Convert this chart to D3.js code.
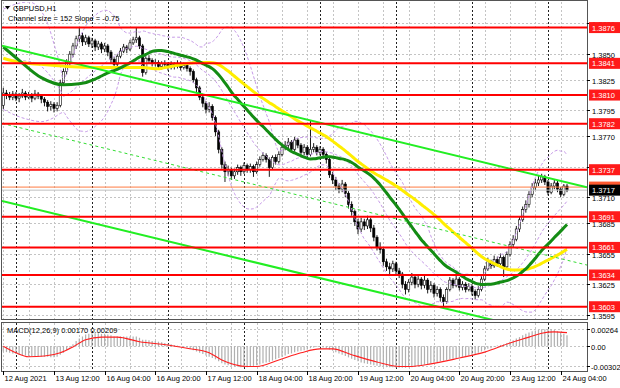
<!DOCTYPE html>
<html lang="en">
<head>
<meta charset="UTF-8">
<script src="https://d3js.org/d3.v7.min.js"></script>
<title>GBPUSD,H1</title>
<style>
  body { margin: 0; background: #fff; }
  svg text { font-family: "Liberation Sans", Arial, sans-serif; font-size: 7.5px; }
</style>
</head>
<body>
<script>
// ---- data ----
var symbol = "GBPUSD,H1";
var channelText = "Channel size = 152 Slope = -0.75";
var macdText = "MACD(12,26,9) 0.00170 0.00209";

var firstOpen = 1.3800;
var closes = [
  1.3812,1.3810,1.3808,1.3811,1.3807,1.3809,1.3812,1.3808,1.3810,1.3807,
  1.3811,1.3809,1.3806,1.3803,1.3799,1.3801,1.3797,1.3800,1.3822,1.3833,
  1.3842,1.3850,1.3858,1.3865,1.3868,1.3862,1.3866,1.3860,1.3863,1.3857,
  1.3860,1.3855,1.3858,1.3852,1.3845,1.3840,1.3848,1.3853,1.3857,1.3855,
  1.3861,1.3864,1.3866,1.3858,1.3832,1.3846,1.3844,1.3841,1.3842,1.3838,
  1.3841,1.3840,1.3837,1.3840,1.3838,1.3841,1.3837,1.3839,1.3836,1.3833,
  1.3825,1.3817,1.3808,1.3802,1.3796,1.3799,1.3788,1.3774,1.3757,1.3742,
  1.3735,1.3737,1.3731,1.3735,1.3739,1.3735,1.3741,1.3737,1.3740,1.3735,
  1.3742,1.3747,1.3751,1.3747,1.3739,1.3749,1.3745,1.3752,1.3759,1.3761,
  1.3764,1.3757,1.3766,1.3761,1.3754,1.3759,1.3752,1.3757,1.3759,1.3754,
  1.3757,1.3752,1.3747,1.3732,1.3727,1.3721,1.3718,1.3723,1.3714,1.3703,
  1.3696,1.3686,1.3679,1.3686,1.3682,1.3688,1.3680,1.3671,1.3661,1.3659,
  1.3647,1.3642,1.3640,1.3645,1.3638,1.3635,1.3625,1.3620,1.3627,1.3632,
  1.3625,1.3630,1.3624,1.3629,1.3620,1.3624,1.3616,1.3620,1.3612,1.3608,
  1.3620,1.3629,1.3624,1.3630,1.3622,1.3625,1.3620,1.3623,1.3618,1.3614,
  1.3620,1.3630,1.3640,1.3647,1.3643,1.3649,1.3645,1.3651,1.3642,1.3654,
  1.3664,1.3669,1.3679,1.3688,1.3698,1.3703,1.3713,1.3720,1.3724,1.3727,
  1.3730,1.3725,1.3715,1.3721,1.3724,1.3718,1.3713,1.3721,1.3717
];
var highs = [
  1.3817,1.3815,1.3813,1.3814,1.3813,1.3812,1.3816,1.3814,1.3813,1.3812,
  1.3815,1.3813,1.3811,1.3808,1.3805,1.3804,1.3803,1.3803,1.3825,1.3836,
  1.3845,1.3853,1.3861,1.3868,1.3876,1.3871,1.3869,1.3868,1.3866,1.3865,
  1.3863,1.3862,1.3861,1.3860,1.3854,1.3847,1.3850,1.3856,1.3860,1.3859,
  1.3864,1.3867,1.3876,1.3868,1.3860,1.3848,1.3849,1.3846,1.3845,1.3844,
  1.3843,1.3844,1.3842,1.3843,1.3842,1.3844,1.3843,1.3842,1.3841,1.3838,
  1.3835,1.3827,1.3819,1.3811,1.3804,1.3803,1.3801,1.3790,1.3776,1.3759,
  1.3745,1.3741,1.3739,1.3738,1.3742,1.3741,1.3744,1.3743,1.3743,1.3742,
  1.3745,1.3750,1.3754,1.3753,1.3749,1.3751,1.3752,1.3755,1.3762,1.3765,
  1.3768,1.3766,1.3769,1.3768,1.3763,1.3762,1.3761,1.3785,1.3763,1.3761,
  1.3760,1.3759,1.3754,1.3749,1.3735,1.3730,1.3724,1.3727,1.3725,1.3716,
  1.3706,1.3698,1.3689,1.3690,1.3689,1.3692,1.3690,1.3683,1.3673,1.3666,
  1.3661,1.3650,1.3646,1.3648,1.3647,1.3641,1.3637,1.3628,1.3630,1.3636,
  1.3634,1.3633,1.3632,1.3635,1.3631,1.3628,1.3626,1.3623,1.3622,1.3615,
  1.3622,1.3632,1.3631,1.3634,1.3632,1.3628,1.3627,1.3626,1.3625,1.3620,
  1.3623,1.3633,1.3643,1.3651,1.3649,1.3653,1.3652,1.3655,1.3653,1.3657,
  1.3667,1.3673,1.3682,1.3691,1.3701,1.3707,1.3716,1.3724,1.3728,1.3731,
  1.3733,1.3732,1.3727,1.3724,1.3727,1.3726,1.3720,1.3723,1.3723
];
var lows = [
  1.3796,1.3806,1.3805,1.3805,1.3804,1.3803,1.3807,1.3805,1.3806,1.3803,
  1.3805,1.3806,1.3802,1.3799,1.3794,1.3795,1.3793,1.3794,1.3798,1.3819,
  1.3830,1.3839,1.3847,1.3855,1.3862,1.3858,1.3859,1.3857,1.3856,1.3853,
  1.3854,1.3851,1.3852,1.3848,1.3841,1.3835,1.3838,1.3846,1.3851,1.3851,
  1.3853,1.3859,1.3861,1.3855,1.3828,1.3830,1.3841,1.3838,1.3838,1.3835,
  1.3835,1.3837,1.3834,1.3835,1.3835,1.3836,1.3834,1.3835,1.3833,1.3829,
  1.3822,1.3813,1.3805,1.3798,1.3792,1.3793,1.3785,1.3770,1.3753,1.3738,
  1.3725,1.3731,1.3727,1.3728,1.3732,1.3731,1.3733,1.3734,1.3734,1.3730,
  1.3733,1.3740,1.3745,1.3744,1.3730,1.3737,1.3742,1.3743,1.3750,1.3756,
  1.3758,1.3754,1.3755,1.3758,1.3750,1.3751,1.3749,1.3750,1.3754,1.3751,
  1.3751,1.3748,1.3743,1.3729,1.3723,1.3717,1.3714,1.3715,1.3710,1.3699,
  1.3692,1.3682,1.3674,1.3676,1.3678,1.3679,1.3676,1.3667,1.3658,1.3655,
  1.3643,1.3638,1.3635,1.3637,1.3634,1.3631,1.3621,1.3615,1.3617,1.3624,
  1.3621,1.3622,1.3620,1.3621,1.3616,1.3617,1.3612,1.3613,1.3608,1.3603,
  1.3606,1.3618,1.3621,1.3622,1.3619,1.3619,1.3617,1.3618,1.3614,1.3610,
  1.3612,1.3618,1.3628,1.3638,1.3640,1.3641,1.3642,1.3643,1.3632,1.3640,
  1.3652,1.3661,1.3667,1.3676,1.3686,1.3695,1.3700,1.3710,1.3717,1.3721,
  1.3724,1.3722,1.3712,1.3713,1.3718,1.3715,1.3710,1.3711,1.3715
];

var greenPeriod = 30, yellowPeriod = 50, bbPeriod = 20, bbDev = 2;
var greenStart = [[0,1.3857],[5,1.3844],[12,1.3827],[19,1.3820],[24,1.3821]];
var yellowStart = [[0,1.3846],[5,1.3842],[12,1.3840],[20,1.3838],[30,1.3837],[39,1.3837],[44,1.3837]];
var bbStartUpper = [[0,1.3894],[4,1.3899],[8,1.3901],[10,1.3899],[12,1.3892],[14,1.3880],[16,1.3860],[18,1.3838]];
var bbStartMiddle = [[0,1.3845],[4,1.3844],[8,1.3843],[12,1.3838],[16,1.3824],[18,1.3815]];
var bbStartLower = [[0,1.3796],[4,1.3790],[8,1.3786],[12,1.3784],[16,1.3788],[18,1.3792]];

// regression channel
var channelStart = 1.3858;     // upper line at first bar
var channelSlope = -0.000075;  // per bar
var channelSize = 0.0152;

// horizontal levels
var redLevels = [1.3876, 1.3841, 1.3810, 1.3782, 1.3737, 1.3691, 1.3661, 1.3634, 1.3603];
var orangeLevel = 1.3720;
var bid = 1.3717;
var priceTicks = [1.3880, 1.3850, 1.3825, 1.3795, 1.3770, 1.3740, 1.3710, 1.3685, 1.3655, 1.3625, 1.3595];

// MACD histogram (x 0.001) per bar and signal line [bar, value x 0.001]
var macdMain = [
  -0.8,-0.9,-1.0,-1.1,-1.2,-1.3,-1.4,-1.4,-1.5,-1.5,
  -1.6,-1.6,-1.6,-1.6,-1.6,-1.7,-1.7,-1.6,-1.3,-1.0,
  -0.6,-0.2,0.3,0.8,1.2,1.5,1.8,1.9,2.0,2.0,
  2.0,1.9,1.9,1.8,1.7,1.5,1.5,1.5,1.5,1.5,
  1.5,1.5,1.5,1.3,1.0,1.0,0.9,0.8,0.8,0.7,
  0.6,0.5,0.4,0.3,0.2,0.1,0.0,-0.1,-0.2,-0.4,
  -0.6,-0.8,-1.0,-1.2,-1.4,-1.6,-1.8,-2.0,-2.3,-2.6,
  -2.8,-2.9,-3.0,-3.1,-3.1,-3.2,-3.2,-3.2,-3.1,-3.0,
  -2.9,-2.8,-2.6,-2.5,-2.4,-2.2,-2.0,-1.8,-1.6,-1.4,
  -1.2,-1.1,-0.9,-0.8,-0.7,-0.6,-0.5,-0.3,-0.2,-0.1,
  -0.1,-0.2,-0.3,-0.5,-0.7,-0.9,-1.1,-1.3,-1.5,-1.7,
  -1.9,-2.1,-2.3,-2.5,-2.6,-2.7,-2.8,-2.9,-3.0,-3.1,
  -3.1,-3.2,-3.2,-3.2,-3.3,-3.3,-3.3,-3.3,-3.2,-3.2,
  -3.1,-3.0,-2.9,-2.8,-2.7,-2.6,-2.5,-2.4,-2.3,-2.2,
  -2.1,-2.0,-1.9,-1.8,-1.7,-1.6,-1.5,-1.4,-1.3,-1.2,
  -1.0,-0.8,-0.6,-0.4,-0.3,-0.1,0.1,0.2,0.3,0.5,
  0.7,0.9,1.2,1.4,1.7,1.9,2.1,2.3,2.4,2.5,
  2.6,2.6,2.64,2.6,2.5,2.3,2.1,1.9,1.7
];
var macdSignal = [
  [0,0.0],[4,-1.0],[8,-1.6],[13,-1.5],[18,-1.0],[22,-0.1],[26,1.0],[31,1.4],[36,1.4],
  [43,0.7],[52,0.2],[58,-0.3],[65,-1.0],[69,-2.1],[77,-3.1],[80,-3.1],[87,-2.1],
  [94,-1.0],[100,-0.4],[104,-0.4],[110,-1.3],[118,-2.4],[125,-3.1],[128,-3.1],
  [135,-2.7],[144,-1.8],[152,-0.9],[160,0.5],[166,1.4],[170,2.0],[174,2.2],[178,2.09]
];
var macdLabels = [0.00264, 0, -0.00302];

// time axis: bar index of each label, day separators
var timeLabels = [
  [0, "12 Aug 2021"], [16, "13 Aug 12:00"], [32, "16 Aug 04:00"], [48, "16 Aug 20:00"],
  [64, "17 Aug 12:00"], [80, "18 Aug 04:00"], [96, "18 Aug 20:00"], [112, "19 Aug 12:00"],
  [128, "20 Aug 04:00"], [144, "20 Aug 20:00"], [160, "23 Aug 12:00"], [176, "24 Aug 04:00"]
];
var daySeparators = [4, 28, 52, 76, 100, 124, 148, 172];

// ---- indicators from the closes ----
function windowAt(n, i) { return closes.slice(i - n + 1, i + 1); }
function smaLine(start, n) {
  return start.concat(d3.range(n - 1, closes.length).map(function (i) {
    return [i, d3.mean(windowAt(n, i))];
  }));
}
var maGreen = smaLine(greenStart, greenPeriod);
var maYellow = smaLine(yellowStart, yellowPeriod);

var bbUpper = bbStartUpper.slice(), bbMiddle = bbStartMiddle.slice(), bbLower = bbStartLower.slice();
d3.range(bbPeriod - 1, closes.length).forEach(function (i) {
  var w = windowAt(bbPeriod, i), m = d3.mean(w);
  var sd = Math.sqrt(d3.mean(w, function (v) { return (v - m) * (v - m); }));
  bbUpper.push([i, m + bbDev * sd]);
  bbMiddle.push([i, m]);
  bbLower.push([i, m - bbDev * sd]);
});

// ---- layout ----
var width = 620, height = 388;
var plotLeft = 2, plotRight = 587, plotTop = 2, mainBottom = 319;
var macdTop = 323, macdBottom = 371;

var svg = d3.select("body").append("svg")
  .attr("width", width).attr("height", height);

var x = d3.scaleLinear().domain([0, closes.length - 1]).range([3.3, 567]);
var y = d3.scaleLinear().domain([1.3591, 1.3901]).range([mainBottom, plotTop]);
var ym = d3.scaleLinear().domain([-0.00302, 0.00264]).range([366, 329]);

svg.append("clipPath").attr("id", "clipMain").append("rect")
  .attr("x", plotLeft).attr("y", plotTop).attr("width", plotRight - plotLeft).attr("height", mainBottom - plotTop);
svg.append("clipPath").attr("id", "clipMacd").append("rect")
  .attr("x", plotLeft).attr("y", macdTop).attr("width", plotRight - plotLeft).attr("height", macdBottom - macdTop);

var main = svg.append("g").attr("clip-path", "url(#clipMain)");
var sub = svg.append("g").attr("clip-path", "url(#clipMacd)");

// grid
var gridBars = d3.range(0, closes.length, 8);
[main, sub].forEach(function (g, k) {
  var y0 = k ? macdTop : plotTop, y1 = k ? macdBottom : mainBottom;
  g.selectAll(".vgrid").data(gridBars).enter().append("line")
    .attr("x1", function (d) { return Math.round(x(d)) + 0.5; })
    .attr("x2", function (d) { return Math.round(x(d)) + 0.5; })
    .attr("y1", y0).attr("y2", y1)
    .attr("stroke", "#c4c4c4").attr("stroke-dasharray", "2,2");
  g.selectAll(".sep").data(daySeparators).enter().append("line")
    .attr("x1", function (d) { return Math.round(x(d)) + 0.5; })
    .attr("x2", function (d) { return Math.round(x(d)) + 0.5; })
    .attr("y1", y0).attr("y2", y1)
    .attr("stroke", "#222").attr("stroke-dasharray", "2,2");
});
main.selectAll(".hgrid").data(priceTicks).enter().append("line")
  .attr("x1", plotLeft).attr("x2", plotRight)
  .attr("y1", function (d) { return Math.round(y(d)) + 0.5; })
  .attr("y2", function (d) { return Math.round(y(d)) + 0.5; })
  .attr("stroke", "#c4c4c4").attr("stroke-dasharray", "2,2");
sub.selectAll(".mgrid").data(macdLabels).enter().append("line")
  .attr("x1", plotLeft).attr("x2", plotRight)
  .attr("y1", function (d) { return Math.round(ym(d)) + 0.5; })
  .attr("y2", function (d) { return Math.round(ym(d)) + 0.5; })
  .attr("stroke", "#c4c4c4").attr("stroke-dasharray", "2,2");

// candles
var opens = closes.map(function (c, i) { return i ? closes[i - 1] : firstOpen; });
var candle = main.selectAll(".candle").data(closes).enter().append("g");
candle.append("line")
  .attr("x1", function (d, i) { return x(i); })
  .attr("x2", function (d, i) { return x(i); })
  .attr("y1", function (d, i) { return y(highs[i]); })
  .attr("y2", function (d, i) { return y(lows[i]); })
  .attr("stroke", "#000").attr("stroke-width", 0.9);
candle.append("rect")
  .attr("x", function (d, i) { return x(i) - 1.1; })
  .attr("width", 2.2)
  .attr("y", function (d, i) { return y(Math.max(d, opens[i])); })
  .attr("height", function (d, i) { return Math.max(0.8, Math.abs(y(d) - y(opens[i]))); })
  .attr("fill", function (d, i) { return d >= opens[i] ? "#fff" : "#000"; })
  .attr("stroke", "#000").attr("stroke-width", 0.6);

// bid and orange lines
main.append("line").attr("x1", plotLeft).attr("x2", plotRight)
  .attr("y1", y(bid)).attr("y2", y(bid)).attr("stroke", "#c0c0c0").attr("stroke-width", 1);
main.append("line").attr("x1", plotLeft).attr("x2", plotRight)
  .attr("y1", y(orangeLevel)).attr("y2", y(orangeLevel)).attr("stroke", "#ff7a40").attr("stroke-width", 1);

// bollinger bands
var pairLine = d3.line().curve(d3.curveMonotoneX)
  .x(function (d) { return x(d[0]); }).y(function (d) { return y(d[1]); });
[bbUpper, bbMiddle, bbLower].forEach(function (b) {
  main.append("path").attr("d", pairLine(b)).attr("fill", "none")
    .attr("stroke", "#c79be8").attr("stroke-width", 1).attr("stroke-dasharray", "3,2");
});

// moving averages
main.append("path").attr("d", pairLine(maYellow)).attr("fill", "none")
  .attr("stroke", "#ffee00").attr("stroke-width", 3);
main.append("path").attr("d", pairLine(maGreen)).attr("fill", "none")
  .attr("stroke", "#148c14").attr("stroke-width", 3);

// regression channel
var i0 = x.invert(plotLeft), i1 = x.invert(plotRight);
function chan(off) {
  return [[i0, channelStart + channelSlope * i0 - off], [i1, channelStart + channelSlope * i1 - off]];
}
var straight = d3.line().x(function (d) { return x(d[0]); }).y(function (d) { return y(d[1]); });
main.append("path").attr("d", straight(chan(channelSize / 2))).attr("fill", "none")
  .attr("stroke", "#33dd33").attr("stroke-width", 1).attr("stroke-dasharray", "3,3");
[0, channelSize].forEach(function (off) {
  main.append("path").attr("d", straight(chan(off))).attr("fill", "none")
    .attr("stroke", "#22ee22").attr("stroke-width", 2);
});

// red levels
main.selectAll(".lvl").data(redLevels).enter().append("line")
  .attr("x1", plotLeft).attr("x2", plotRight)
  .attr("y1", function (d) { return y(d); }).attr("y2", function (d) { return y(d); })
  .attr("stroke", "#ff0000").attr("stroke-width", 2);

// MACD histogram and signal
sub.selectAll(".hist").data(macdMain).enter().append("line")
  .attr("x1", function (d, i) { return x(i); })
  .attr("x2", function (d, i) { return x(i); })
  .attr("y1", ym(0))
  .attr("y2", function (d) { return ym(d / 1000); })
  .attr("stroke", "#b0b0b0").attr("stroke-width", 1.2);
sub.append("path")
  .attr("d", d3.line().curve(d3.curveMonotoneX)
    .x(function (d) { return x(d[0]); }).y(function (d) { return ym(d[1] / 1000); })(macdSignal))
  .attr("fill", "none").attr("stroke", "#ff2020").attr("stroke-width", 1.1);

// frames
svg.append("rect").attr("x", plotLeft - 0.5).attr("y", 0.5).attr("width", plotRight - plotLeft + 1).attr("height", mainBottom)
  .attr("fill", "none").attr("stroke", "#555");
svg.append("rect").attr("x", plotLeft - 0.5).attr("y", macdTop - 0.5).attr("width", plotRight - plotLeft + 1).attr("height", macdBottom - macdTop + 1)
  .attr("fill", "none").attr("stroke", "#555");

// price axis
var axis = svg.append("g");
priceTicks.forEach(function (p) {
  var yy = Math.round(y(p)) + 0.5;
  axis.append("line").attr("x1", plotRight).attr("x2", plotRight + 3).attr("y1", yy).attr("y2", yy).attr("stroke", "#000");
  axis.append("text").attr("x", plotRight + 5).attr("y", yy + 3).text(p.toFixed(4));
});
macdLabels.forEach(function (v) {
  var yy = Math.round(ym(v)) + 0.5;
  axis.append("line").attr("x1", plotRight).attr("x2", plotRight + 3).attr("y1", yy).attr("y2", yy).attr("stroke", "#000");
  axis.append("text").attr("x", plotRight + 4).attr("y", yy + 3).text(v === 0 ? "0.00" : v.toFixed(5));
});

function tag(p, fill) {
  var yy = y(p);
  axis.append("rect").attr("x", plotRight + 2).attr("y", yy - 5.5).attr("width", 31).attr("height", 11).attr("fill", fill);
  axis.append("text").attr("x", plotRight + 5).attr("y", yy + 3).attr("fill", "#fff").text(p.toFixed(4));
}
redLevels.forEach(function (p) { tag(p, "#ff1a1a"); });
tag(orangeLevel, "#ff5a30");
tag(bid, "#000");

// time axis
timeLabels.forEach(function (t) {
  var xx = Math.round(x(t[0])) + 0.5;
  axis.append("line").attr("x1", xx).attr("x2", xx).attr("y1", macdBottom).attr("y2", macdBottom + 4).attr("stroke", "#000");
  axis.append("text").attr("x", xx + 1).attr("y", 381).text(t[1]);
});

// captions
axis.append("path").attr("d", "M5,6 L10,6 L7.5,9.5 Z").attr("fill", "#000");
axis.append("text").attr("x", 13).attr("y", 11).text(symbol);
axis.append("text").attr("x", 8).attr("y", 21).text(channelText);
axis.append("text").attr("x", 7).attr("y", 333).text(macdText);
</script>
</body>
</html>
